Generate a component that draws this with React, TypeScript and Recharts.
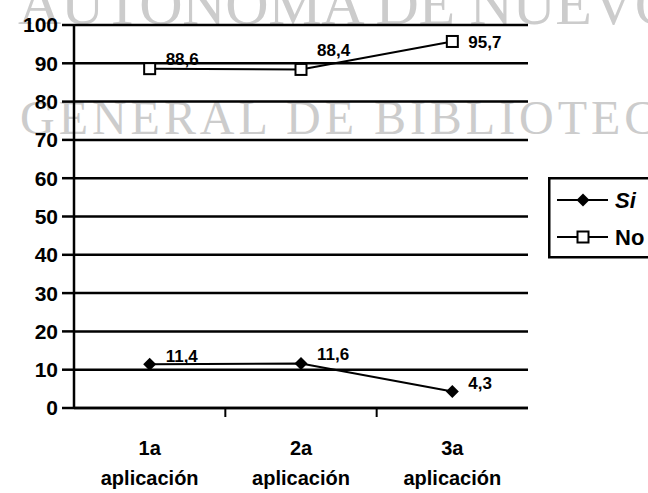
import React from 'react';
import { LineChart, Line, XAxis, YAxis, CartesianGrid, LabelList, Legend } from 'recharts';

const CATEGORIES = ['1a aplicación', '2a aplicación', '3a aplicación'];
const SI = [11.4, 11.6, 4.3];
const NO = [88.6, 88.4, 95.7];
const Y_TICKS = [0, 10, 20, 30, 40, 50, 60, 70, 80, 90, 100];
const SERIES_NAMES = ['Si', 'No'];
const WATERMARK = ['AUTONOMA DE NUEVO', 'GENERAL DE BIBLIOTECA'];

const data = CATEGORIES.map((c, i) => ({ cat: c, si: SI[i], no: NO[i] }));

const W = 648;
const H = 493;
const MARGIN = { top: 25, right: 120, bottom: 0, left: 0 };
const Y_W = 74;
const X_H = 85;
const PLOT_W = W - MARGIN.left - MARGIN.right - Y_W;
const HALF_BAND = PLOT_W / CATEGORIES.length / 2;
const FONT = 'Arial, "Liberation Sans", sans-serif';

// manual nudges of the value labels, like the moved labels in the scan
const LABEL_DY_SI = [-8, -9, -8];
const LABEL_DY_NO = [-9, -19, 1];

const Diamond = (p: any) => {
  const { cx, cy } = p;
  const r = 6.5;
  return <polygon points={`${cx},${cy - r} ${cx + r},${cy} ${cx},${cy + r} ${cx - r},${cy}`} fill="#000" />;
};

const Square = (p: any) => {
  const { cx, cy } = p;
  return <rect x={cx - 5.5} y={cy - 5.5} width={11} height={11} fill="#fff" stroke="#000" strokeWidth={2} />;
};

const valueLabel = (dys: number[]) => (p: any) => {
  const { x, y, value, index } = p;
  return (
    <text x={x + 16} y={y + dys[index]} dominantBaseline="central" fontSize={17} fontWeight="bold" fontFamily={FONT} fill="#000">
      {String(value).replace('.', ',')}
    </text>
  );
};

function XTick(props: any) {
  const { x, y, payload, index } = props;
  const [top, bottom] = String(payload.value).split(' ');
  return (
    <g>
      {index < CATEGORIES.length - 1 && (
        <line x1={x + HALF_BAND} x2={x + HALF_BAND} y1={y - 9} y2={y} stroke="#000" strokeWidth={2} />
      )}
      <text x={x} y={y + 38} textAnchor="middle" fontSize={20} fontWeight="bold" fontFamily={FONT} fill="#000">{top}</text>
      <text x={x} y={y + 68} textAnchor="middle" fontSize={20} fontWeight="bold" fontFamily={FONT} fill="#000">{bottom}</text>
    </g>
  );
}

function LegendBox() {
  return (
    <svg width={100} height={84} style={{ display: 'block' }}>
      <rect x={1.25} y={1.25} width={120} height={79} fill="#fff" stroke="#000" strokeWidth={2.5} />
      {SERIES_NAMES.map((name, i) => {
        const cy = i === 0 ? 23 : 60;
        return (
          <g key={name}>
            <line x1={9} x2={60} y1={cy} y2={cy} stroke="#000" strokeWidth={2} />
            {i === 0 ? <Diamond cx={35} cy={cy} /> : <Square cx={35} cy={cy} />}
            <text x={67} y={cy} dominantBaseline="central" fontSize={22} fontWeight="bold"
              fontStyle={i === 0 ? 'italic' : 'normal'} fontFamily={FONT} fill="#000">{name}</text>
          </g>
        );
      })}
    </svg>
  );
}

export default function App() {
  return (
    <div style={{ position: 'absolute', left: 0, top: 0, width: W, height: H, overflow: 'hidden', background: '#fff' }}>
      {/* scan watermark */}
      <svg width={W} height={H} style={{ position: 'absolute', left: 0, top: 0 }}>
        <text x={18} y={24} fontSize={60} fontFamily='"Liberation Serif", "DejaVu Serif", serif' fill="#cccccc"
          textLength={660} lengthAdjust="spacing">{WATERMARK[0]}</text>
        <text x={20} y={134} fontSize={48} fontFamily='"Liberation Serif", "DejaVu Serif", serif' fill="#cccccc"
          textLength={675} lengthAdjust="spacing">{WATERMARK[1]}</text>
      </svg>
      <div style={{ position: 'absolute', left: 0, top: 0 }}>
        <LineChart width={W} height={H} data={data} margin={MARGIN}>
          <CartesianGrid vertical={false} stroke="#000" strokeWidth={2.5} yAxisId="left" />
          <XAxis dataKey="cat" scale="band" height={X_H} tick={<XTick />} tickLine={false} tickSize={9} tickMargin={0}
            axisLine={{ stroke: '#000', strokeWidth: 2.5 }} interval={0} />
          <YAxis yAxisId="left" width={Y_W} domain={[0, 100]} ticks={Y_TICKS} interval={0} tickSize={12} tickMargin={4}
            axisLine={{ stroke: '#000', strokeWidth: 2.5 }} tickLine={{ stroke: '#000', strokeWidth: 2.5 }}
            tick={{ fill: '#000', fontSize: 21, fontWeight: 'bold', fontFamily: FONT }} />
          <YAxis yAxisId="right" orientation="right" width={0} domain={[0, 100]} tick={false} tickLine={false}
            axisLine={{ stroke: '#000', strokeWidth: 2.5 }} />
          <Legend layout="horizontal" verticalAlign="middle" align="center" content={<LegendBox />}
            wrapperStyle={{ left: 548, top: 177, width: 100, height: 84 }} />
          <Line yAxisId="left" dataKey="si" name={SERIES_NAMES[0]} stroke="#000" strokeWidth={2} dot={<Diamond />}
            activeDot={false} isAnimationActive={false}>
            <LabelList dataKey="si" content={valueLabel(LABEL_DY_SI)} />
          </Line>
          <Line yAxisId="left" dataKey="no" name={SERIES_NAMES[1]} stroke="#000" strokeWidth={2} dot={<Square />}
            activeDot={false} isAnimationActive={false}>
            <LabelList dataKey="no" content={valueLabel(LABEL_DY_NO)} />
          </Line>
        </LineChart>
      </div>
    </div>
  );
}
